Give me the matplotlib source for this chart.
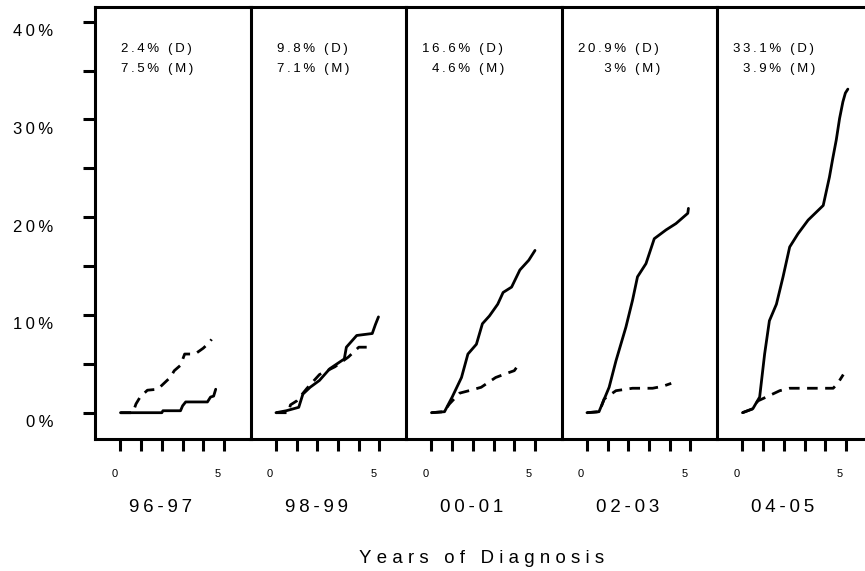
import matplotlib
matplotlib.use("Agg")
import matplotlib.pyplot as plt
from matplotlib.transforms import ScaledTranslation

plt.rcParams['font.family'] = ['Liberation Sans', 'DejaVu Sans']

# ---- data -----------------------------------------------------------------
periods = ["96-97", "98-99", "00-01", "02-03", "04-05"]

# cumulative incidence (%) by years since diagnosis; D = solid, M = dashed
d_times = [
    [0, 2.0, 2.05, 2.9, 3.0, 3.15, 4.2, 4.35, 4.5, 4.6],
    [0, 0.5, 1.1, 1.3, 1.65, 2.1, 2.6, 3.3, 3.4, 3.9, 4.65, 4.8, 4.95],
    [0, 0.63, 1.0, 1.45, 1.76, 2.17, 2.46, 2.8, 3.2, 3.46, 3.87, 4.27, 4.7, 5.0],
    [0, 0.58, 1.07, 1.4, 1.88, 2.2, 2.44, 2.85, 3.25, 3.82, 4.3, 4.87, 4.9],
    [0, 0.5, 0.83, 1.07, 1.3, 1.64, 1.96, 2.28, 2.68, 3.17, 3.9, 4.2, 4.36,
     4.53, 4.69, 4.85, 4.97, 5.09],
]
d_values = [
    [0, 0, 0.2, 0.2, 0.7, 1.1, 1.1, 1.6, 1.7, 2.4],
    [0, 0.2, 0.55, 1.9, 2.6, 3.3, 4.5, 5.5, 6.7, 7.9, 8.1, 9.0, 9.8],
    [0, 0.1, 1.6, 3.6, 6.0, 7.0, 9.1, 9.9, 11.1, 12.3, 12.85, 14.6, 15.6, 16.6],
    [0, 0.1, 2.6, 5.3, 8.75, 11.5, 13.9, 15.25, 17.8, 18.7, 19.35, 20.4, 20.9],
    [0, 0.4, 1.6, 6.0, 9.4, 11.1, 13.9, 16.95, 18.3, 19.7, 21.2, 24.1, 26.0,
     27.9, 30.1, 31.8, 32.7, 33.1],
]
m_times = [
    [0, 0.6, 0.75, 0.95, 1.3, 1.8, 2.1, 2.4, 2.6, 2.9, 3.1, 3.6, 4.0, 4.3, 4.4],
    [0, 0.6, 0.7, 1.0, 1.5, 2.1, 2.85, 3.5, 4.0, 4.5, 4.55],
    [0, 0.6, 0.87, 1.36, 1.9, 2.4, 3.1, 3.6, 4.0, 4.1],
    [0, 0.6, 0.83, 1.4, 2.2, 3.17, 3.66, 4.07],
    [0, 0.5, 0.74, 1.15, 1.8, 2.28, 4.38, 4.6, 4.87],
]
m_values = [
    [0, 0, 0.9, 1.6, 2.3, 2.4, 3.0, 3.6, 4.3, 4.85, 6.0, 6.0, 6.6, 7.2, 7.5],
    [0, 0, 0.8, 1.2, 2.5, 3.9, 4.7, 5.7, 6.7, 6.7, 7.1],
    [0, 0.1, 0.9, 2.0, 2.3, 2.6, 3.6, 4.0, 4.3, 4.6],
    [0, 0.1, 1.4, 2.25, 2.5, 2.5, 2.7, 3.0],
    [0, 0.4, 1.2, 1.6, 2.25, 2.5, 2.5, 3.0, 3.9],
]

y_ticks = [0, 10, 20, 30, 40]
y_minor = [5, 15, 25, 35]
x_ticks = [0, 1, 2, 3, 4, 5]
x_tick_labels = ["0", "", "", "", "", "5"]
x_title = "Years of Diagnosis"

# ---- helpers --------------------------------------------------------------
THIN = "\u2009"
HAIR = "\u200a"


def spaced(s, sep=THIN):
    """Widen letter spacing by putting a thin space between characters."""
    return sep.join(s)


def pct_line(v, tag):
    """Right-justify the number in a 'dd.d' field, then '% (tag)'."""
    s = f"{v:g}"
    digits = sum(c.isdigit() for c in s)
    pad = "\u2007" * (3 - digits) + "\u2008" * (1 - s.count("."))
    return spaced(pad + s + "% (" + tag + ")")


# ---- layout ---------------------------------------------------------------
W, H = 865, 571
fig = plt.figure(figsize=(W / 100, H / 100), dpi=100)

left_px, top_px, bottom_px = 95, 7, 438.5
panel_w = 155.5
ylim = (-2.64, 41.5)
xlim = (-1.23, 6.28)
LW = 2.2

for i, period in enumerate(periods):
    ax = fig.add_axes([(left_px + i * panel_w) / W, 1 - bottom_px / H,
                       panel_w / W, (bottom_px - top_px) / H])
    ax.set_xlim(*xlim)
    ax.set_ylim(*ylim)
    for side in ("left", "top", "bottom"):
        ax.spines[side].set_linewidth(LW)
        ax.spines[side].set_color("black")
    ax.spines["right"].set_visible(False)

    ax.plot(d_times[i], d_values[i], color="black", lw=2.0,
            solid_joinstyle="round", solid_capstyle="round")
    ax.plot(m_times[i], m_values[i], color="black", lw=2.0,
            linestyle=(0, (3.8, 2.7)))

    # x ticks
    ax.set_xticks(x_ticks, labels=x_tick_labels)
    ax.tick_params(axis="x", length=8.8, width=LW, direction="out",
                   labelsize=8, pad=13, colors="black")
    shift_x = ScaledTranslation(-0.06, 0, fig.dpi_scale_trans)
    for lab in ax.get_xticklabels():
        lab.set_transform(lab.get_transform() + shift_x)

    # y ticks only on the first panel
    if i == 0:
        ax.set_yticks(y_ticks, labels=[spaced(f"{v}%") for v in y_ticks])
        ax.set_yticks(y_minor, minor=True)
        ax.tick_params(axis="y", which="both", length=8.6, width=LW,
                       direction="out", labelsize=12, pad=21.6, colors="black")
        shift_y = ScaledTranslation(0, -0.085, fig.dpi_scale_trans)
        for lab in ax.get_yticklabels():
            lab.set_transform(lab.get_transform() + shift_y)
    else:
        ax.set_yticks([])
        ax.tick_params(axis="y", which="both", left=False, labelleft=False)

    # end-of-follow-up percentages
    ax.text(0.103, 0.8957, pct_line(d_values[i][-1], "D"), transform=ax.transAxes,
            ha="left", va="baseline", fontsize=9.5, color="black")
    ax.text(0.103, 0.850, pct_line(m_values[i][-1], "M"), transform=ax.transAxes,
            ha="left", va="baseline", fontsize=9.5, color="black")

    # period label under the panel
    ax.text(1.95, -0.171, spaced(period), transform=ax.get_xaxis_transform(),
            ha="center", va="baseline", fontsize=13.5, color="black")

fig.text(482 / W, 1 - 563.3 / H, spaced(x_title, THIN + HAIR),
         ha="center", va="baseline", fontsize=13.4, color="black")

fig.savefig("out.png", dpi=100)
